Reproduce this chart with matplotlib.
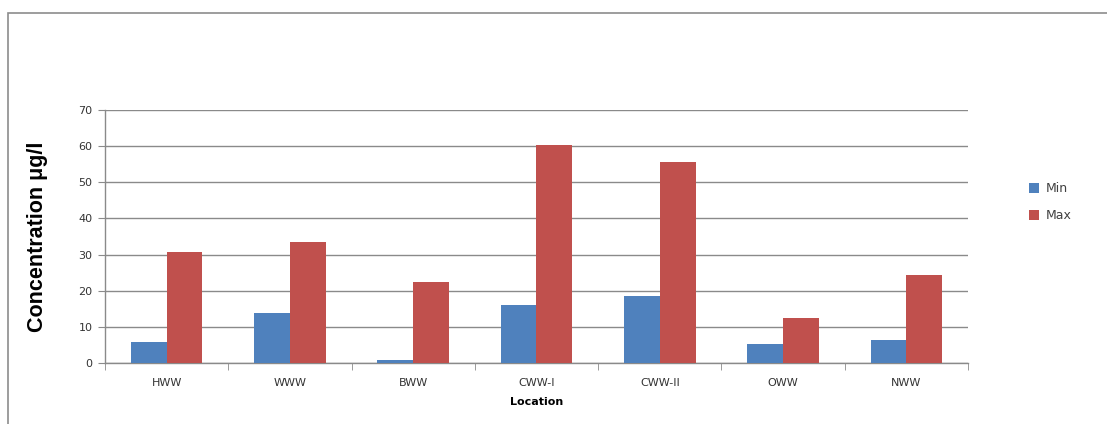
import numpy as np
import matplotlib.pyplot as plt
from matplotlib.patches import Rectangle


locations = ['HWW', 'WWW', 'BWW', 'CWW-I', 'CWW-II', 'OWW', 'NWW']
min_vals = [5.9, 13.9, 0.9, 16.1, 18.6, 5.3, 6.4]
max_vals = [30.8, 33.5, 22.5, 60.3, 55.6, 12.5, 24.4]


def main():
    W, H = 1107, 424
    fig = plt.figure(figsize=(W/100, H/100), dpi=100)
    ax = fig.add_axes([105/W, 1-363/H, (968-105)/W, (363-110)/H])

    # outer chart border (runs off the right and bottom edges)
    fig.patches.append(Rectangle((8/W, -0.5), 2.0, 0.5+(H-13)/H,
                                 transform=fig.transFigure, fill=False,
                                 edgecolor='#8c8c8c', linewidth=1.2))

    x = np.arange(len(locations))
    bw = 0.29
    ax.bar(x-bw/2, min_vals, bw, color='#4F81BD', label='Min', zorder=3)
    ax.bar(x+bw/2, max_vals, bw, color='#C0504D', label='Max', zorder=3)

    ax.set_xlim(-0.5, len(locations)-0.5)
    ax.set_ylim(0, 70)
    ax.set_yticks(np.arange(0, 71, 10))
    ax.yaxis.grid(True, color='#8a8a8a', linewidth=1.0, zorder=0)
    ax.set_axisbelow(True)

    ax.set_xticks(x)
    ax.set_xticklabels(locations)
    ax.set_xticks(np.arange(-0.5, len(locations), 1.0), minor=True)
    ax.tick_params(axis='x', which='major', length=0, pad=11,
                   labelsize=8, labelcolor='#333333')
    ax.tick_params(axis='x', which='minor', length=5, color='#8a8a8a')
    ax.tick_params(axis='y', length=5, color='#8a8a8a', labelsize=8,
                   labelcolor='#333333', pad=4)

    for side in ['top', 'right']:
        ax.spines[side].set_visible(False)
    for side in ['left', 'bottom']:
        ax.spines[side].set_color('#8a8a8a')
        ax.spines[side].set_linewidth(1.0)

    ax.set_ylabel('Concentration \u03bcg/l', family='Liberation Sans',
                  fontweight='bold', fontsize=15.5)
    ax.yaxis.set_label_coords(-0.066, 0.498)
    ax.set_xlabel('Location', fontweight='bold', fontsize=8, labelpad=6)

    leg = ax.legend(loc='center left', bbox_to_anchor=(1.058, 0.635),
                    frameon=False, fontsize=9, handlelength=0.8,
                    handleheight=0.8, labelspacing=1.1, handletextpad=0.5)
    for t in leg.get_texts():
        t.set_color('#404040')

    fig.savefig('out.png', dpi=100)


if __name__ == "__main__":
    main()
